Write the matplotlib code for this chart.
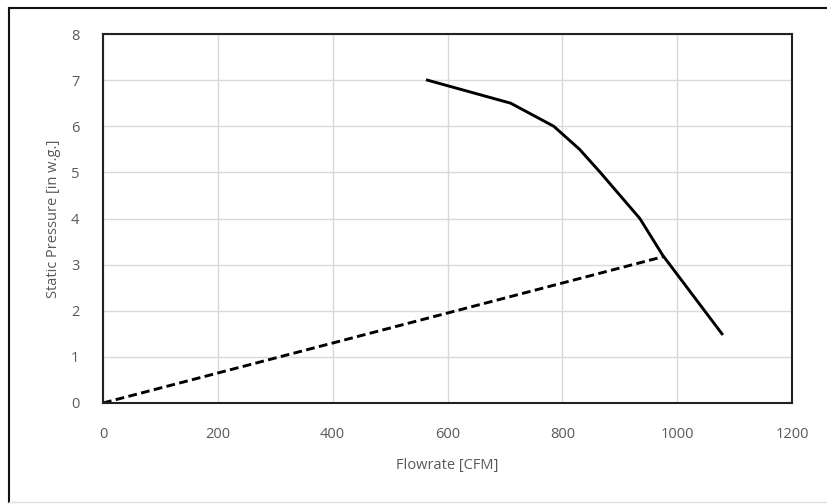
import matplotlib
matplotlib.use("Agg")
import matplotlib.pyplot as plt
from matplotlib.lines import Line2D

# fan curve
flow_fan = [565, 710, 785, 830, 866, 935, 975, 1078]
press_fan = [7.0, 6.5, 6.0, 5.5, 5.0, 4.0, 3.2, 1.5]

# system line (dashed)
flow_sys = [0, 975]
press_sys = [0, 3.17]

x_ticks = [0, 200, 400, 600, 800, 1000, 1200]
y_ticks = [0, 1, 2, 3, 4, 5, 6, 7, 8]

plt.rcParams['font.family'] = ['Open Sans', 'DejaVu Sans']

fig = plt.figure(figsize=(8.27, 5.04), dpi=100)
ax = fig.add_axes([103 / 827, 1 - 403 / 504, (792 - 103) / 827, (403 - 34) / 504])

ax.plot(flow_fan, press_fan, color='black', lw=2.1, solid_joinstyle='round')
ax.plot(flow_sys, press_sys, color='black', lw=2.1, ls=(0, (3, 1.5)))

ax.set_xlim(0, 1200)
ax.set_ylim(0, 8)
ax.set_xticks(x_ticks)
ax.set_yticks(y_ticks)
ax.grid(True, color='#d9d9d9', lw=1)
ax.set_axisbelow(True)
ax.tick_params(length=0, labelsize=10.5, labelcolor='#595959')
ax.tick_params(axis='x', pad=17)
ax.tick_params(axis='y', pad=17)
for s in ax.spines.values():
    s.set_color('#222222')
    s.set_linewidth(1.5)

ax.set_xlabel('Flowrate [CFM]', fontsize=10.5, color='#595959', labelpad=12)
ax.set_ylabel('Static Pressure [in w.g.]', fontsize=10.5, color='#595959', labelpad=7)

# outer chart frame (screenshot edges)
fig.add_artist(Line2D([9 / 827, 1], [1 - 8 / 504, 1 - 8 / 504], color='#111111', lw=1.5))
fig.add_artist(Line2D([9 / 827, 9 / 827], [1 - 8 / 504, 1 - 502 / 504], color='#111111', lw=1.5))
fig.add_artist(Line2D([9 / 827, 1], [1 - 502 / 504, 1 - 502 / 504], color='#e0e0e0', lw=1))

fig.savefig('out.png', dpi=100)
